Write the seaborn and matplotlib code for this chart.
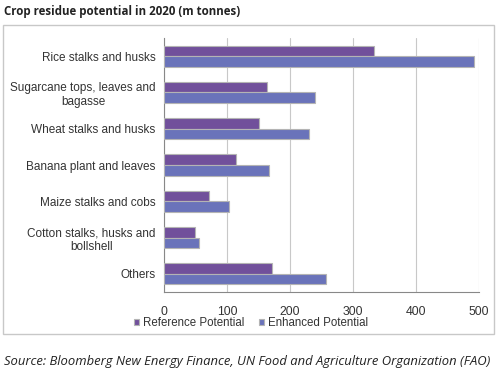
import pandas as pd
import matplotlib.pyplot as plt
import seaborn as sns
from matplotlib.patches import Rectangle

# Data (m tonnes)
categories = ['Rice stalks and husks', 'Sugarcane tops, leaves and\nbagasse',
              'Wheat stalks and husks', 'Banana plant and leaves',
              'Maize stalks and cobs', 'Cotton stalks, husks and\nbollshell', 'Others']
reference_potential = [333, 164, 150, 115, 71, 49, 172]
enhanced_potential = [492, 240, 230, 166, 103, 56, 257]
series_names = ['Reference Potential', 'Enhanced Potential']
x_ticks = [0, 100, 200, 300, 400, 500]

df = pd.DataFrame({
    'category': categories * 2,
    'value': reference_potential + enhanced_potential,
    'series': [series_names[0]] * len(categories) + [series_names[1]] * len(categories),
})

sns.set_style('white')
plt.rcParams['font.family'] = ['Liberation Sans', 'DejaVu Sans']

fig = plt.figure(figsize=(5, 3.75), dpi=100)
ax = fig.add_axes([0.328, 0.221, 0.63, 0.678])

palette = {series_names[0]: '#71509b', series_names[1]: '#6a73ba'}
sns.barplot(data=df, y='category', x='value', hue='series', order=categories,
            hue_order=series_names, palette=palette, width=0.58, orient='h',
            edgecolor='#b4b4b4', linewidth=0.8, saturation=1, ax=ax, zorder=3)

ax.set_xlim(0, 500)
ax.set_ylim(len(categories) - 0.5, -0.5)
ax.set_xticks(x_ticks)
ax.set_xticklabels([str(t) for t in x_ticks], fontsize=8.8, color='#333333')
ax.set_xlabel('')
ax.set_ylabel('')
ax.grid(axis='x', color='#c8c8c8', linewidth=0.8, zorder=0)

# category labels centred on bars, tick marks between categories (Excel style)
ax.tick_params(axis='y', which='major', length=0, pad=6, labelsize=8.5, labelcolor='#333333')
for lbl in ax.get_yticklabels():
    lbl.set_multialignment('center')
ax.set_yticks([i + 0.5 for i in range(-1, len(categories))], minor=True)
ax.tick_params(axis='y', which='minor', length=4, color='#888888', width=0.8)
ax.tick_params(axis='x', length=4, color='#888888', width=0.8, pad=6)

for s in ['top', 'right']:
    ax.spines[s].set_visible(False)
for s in ['left', 'bottom']:
    ax.spines[s].set_color('#888888')
    ax.spines[s].set_linewidth(0.8)

handles, labels = ax.get_legend_handles_labels()
ax.legend(handles, labels, loc='center', bbox_to_anchor=(0.276, -0.122),
          ncol=2, frameon=False, fontsize=8.3, handlelength=0.45, handleheight=0.45,
          handletextpad=0.3, columnspacing=1.3, labelcolor='#333333',
          borderaxespad=0, borderpad=0)

fig.patches.append(Rectangle((3 / 500, 1 - 334 / 375), 491 / 500, 309 / 375,
                             transform=fig.transFigure, fill=False,
                             edgecolor='#c8c8c8', linewidth=1))

fig.text(4 / 500, 1 - 12 / 375, 'Crop residue potential in 2020 (m tonnes)',
         fontsize=8.3, fontweight='bold', family='Open Sans', va='center', color='#222222')
fig.text(4 / 500, 1 - 362 / 375,
         'Source: Bloomberg New Energy Finance, UN Food and Agriculture Organization (FAO)',
         fontsize=9.4, fontstyle='italic', family='Open Sans', va='center', color='#222222')

fig.savefig('out.png', dpi=100)
